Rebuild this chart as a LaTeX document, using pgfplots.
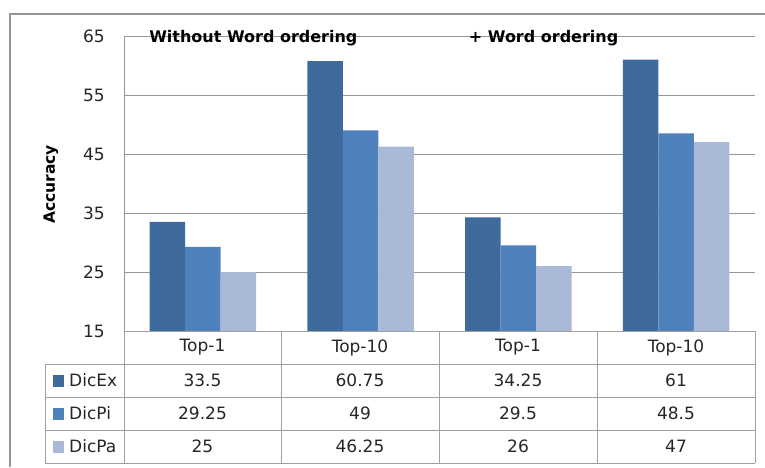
\documentclass[border=0pt]{standalone}
\usepackage{pgfplots}
\pgfplotsset{compat=1.18}
\usepackage{fontspec}
\setmainfont{DejaVu Sans}
\definecolor{cEx}{RGB}{63,106,156}
\definecolor{cPi}{RGB}{79,129,189}
\definecolor{cPa}{RGB}{170,185,215}
\definecolor{gridc}{RGB}{150,150,150}
\definecolor{tabc}{RGB}{160,160,160}
\begin{document}
\begin{tikzpicture}[x=1pt,y=1pt]
\useasboundingbox (0,0) rectangle (765,-467);
% outer frame (cropped)
\draw[gridc, line width=1.2pt] (10,-467) -- (10,-14) -- (765,-14);
\begin{axis}[
  at={(124pt,-331pt)}, anchor=south west,
  scale only axis, width=631pt, height=295pt,
  xmin=0, xmax=4, ymin=15, ymax=65,
  ytick={15,25,35,45,55,65},
  xtick=\empty,
  ymajorgrids, grid style={gridc, line width=1pt},
  axis x line=none,
  axis y line*=left,
  axis line style={gridc, line width=1pt, -},
  major tick length=0pt,
  /pgf/number format/assume math mode=true,
  yticklabel style={font=\fontsize{17}{19}\selectfont, anchor=east, inner sep=0pt, xshift=-19pt, text=black!85},
  ybar=0pt, bar width=35.5pt,
  clip=false,
]
\addplot[fill=cEx, draw=none] coordinates {(0.5,33.5) (1.5,60.75) (2.5,34.25) (3.5,61)};
\addplot[fill=cPi, draw=none] coordinates {(0.5,29.25) (1.5,49) (2.5,29.5) (3.5,48.5)};
\addplot[fill=cPa, draw=none] coordinates {(0.5,25) (1.5,46.25) (2.5,26) (3.5,47)};
\node[font=\fontsize{16}{18}\selectfont\bfseries, inner sep=0pt] at (axis cs:0.82,64.6) {Without Word ordering};
\node[font=\fontsize{16}{18}\selectfont\bfseries, inner sep=0pt] at (axis cs:2.66,64.6) {+ Word ordering};
\end{axis}
% y label
\node[rotate=90, font=\fontsize{15.5}{17}\selectfont\bfseries, inner sep=0pt] at (51,-184.5) {Accuracy};
% data table
\begin{scope}[tabc, line width=1pt]
\draw (124,-331) -- (755,-331);
\draw (45,-364) -- (755,-364);
\draw (45,-397) -- (755,-397);
\draw (45,-430) -- (755,-430);
\draw (45,-463) -- (755,-463);
\draw (45,-364) -- (45,-463);
\foreach \x in {124,281,439,597,755} \draw (\x,-331) -- (\x,-463);
\end{scope}
\begin{scope}[font=\fontsize{17}{19}\selectfont, text=black!85]
\node at (202.5,-347.5) {Top-1};
\node at (360,-347.5) {Top-10};
\node at (518,-347.5) {Top-1};
\node at (676,-347.5) {Top-10};
\fill[cEx] (52.5,-375) rectangle (64,-386.5);
\fill[cPi] (52.5,-408) rectangle (64,-419.5);
\fill[cPa] (52.5,-441) rectangle (64,-452.5);
\node[anchor=west, inner sep=0pt] at (69,-380.5) {DicEx};
\node[anchor=west, inner sep=0pt] at (69,-413.5) {DicPi};
\node[anchor=west, inner sep=0pt] at (69,-446.5) {DicPa};
\node at (202.5,-380.5) {33.5};
\node at (360,-380.5) {60.75};
\node at (518,-380.5) {34.25};
\node at (676,-380.5) {61};
\node at (202.5,-413.5) {29.25};
\node at (360,-413.5) {49};
\node at (518,-413.5) {29.5};
\node at (676,-413.5) {48.5};
\node at (202.5,-446.5) {25};
\node at (360,-446.5) {46.25};
\node at (518,-446.5) {26};
\node at (676,-446.5) {47};
\end{scope}
\end{tikzpicture}
\end{document}
